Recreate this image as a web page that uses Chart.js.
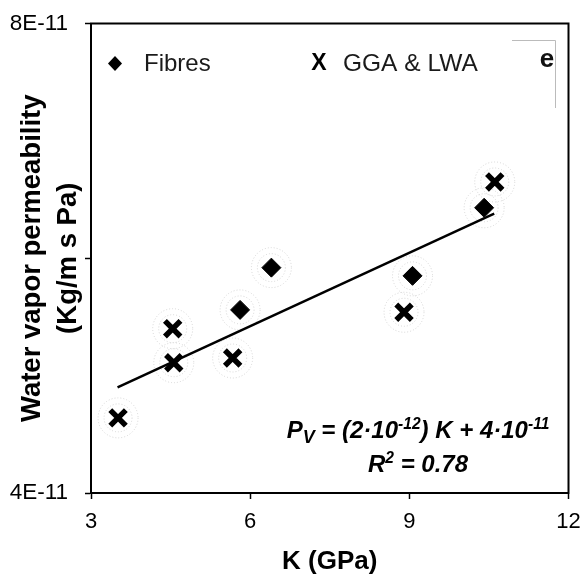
<!DOCTYPE html>
<html>
<head>
<meta charset="utf-8">
<script src="https://cdn.jsdelivr.net/npm/chart.js@4"></script>
<style>
  html, body { margin: 0; padding: 0; background: #fff; }
  #wrap { width: 585px; height: 576px; }
</style>
</head>
<body>
<div id="wrap"><canvas id="chart" width="585" height="576"></canvas></div>
<script>
/* ================================================
   Pv vs K scatter
   ================================================ */

const fibresK  = [5.81, 6.40, 9.06, 10.41];
const fibresPv = [5.56e-11, 5.92e-11, 5.85e-11, 6.43e-11];

const ggaK  = [3.51, 4.54, 4.56, 5.67, 8.90, 10.61];
const ggaPv = [4.64e-11, 5.40e-11, 5.11e-11, 5.15e-11, 5.54e-11, 6.65e-11];

const fitK  = [3.5, 10.6];
const fitPv = [4.90e-11, 6.38e-11];

const xTicks      = [3, 6, 9, 12];
const yTicks      = [4e-11, 6e-11, 8e-11];
const yTickLabels = ['4E-11', '', '8E-11'];

const FONT = "'Liberation Sans', Arial, sans-serif";

function toPoints(xs, ys) {
  return xs.map((x, i) => ({ x, y: ys[i] }));
}

// faint dotted rings behind each marker
const ringsPlugin = {
  id: 'rings',
  beforeDatasetsDraw(chart) {
    const ctx = chart.ctx;
    ctx.save();
    ctx.strokeStyle = '#d4d4d4';
    ctx.lineWidth = 1;
    ctx.setLineDash([1, 2]);
    chart.data.datasets.forEach((ds, i) => {
      if (ds.type === 'line') return;
      chart.getDatasetMeta(i).data.forEach(p => {
        [14, 20].forEach(r => {
          ctx.beginPath();
          ctx.arc(p.x, p.y, r, 0, Math.PI * 2);
          ctx.stroke();
        });
      });
    });
    ctx.restore();
  }
};

// draws a run of text pieces (normal / sup / sub) from x on a baseline
function drawRich(ctx, parts, x, y, size, align) {
  const font = s => `italic bold ${s}px ${FONT}`;
  let total = 0;
  parts.forEach(p => {
    ctx.font = font(size * (p.scale || 1));
    total += ctx.measureText(p.t).width;
  });
  let cx = align === 'center' ? x - total / 2 : x;
  ctx.textAlign = 'left';
  ctx.textBaseline = 'alphabetic';
  parts.forEach(p => {
    ctx.font = font(size * (p.scale || 1));
    ctx.fillText(p.t, cx, y + (p.dy || 0));
    cx += ctx.measureText(p.t).width;
  });
}

const decorPlugin = {
  id: 'decor',
  afterDraw(chart) {
    const { ctx, chartArea: a } = chart;
    ctx.save();

    // plot frame
    ctx.strokeStyle = '#000';
    ctx.lineWidth = 2;
    ctx.strokeRect(a.left, a.top, a.right - a.left, a.bottom - a.top);

    // legend
    const fib = chart.data.datasets[0].label;
    const gga = chart.data.datasets[1].label;
    ctx.fillStyle = '#000';
    ctx.beginPath();
    ctx.moveTo(115, 56); ctx.lineTo(122, 63.5); ctx.lineTo(115, 71); ctx.lineTo(108, 63.5);
    ctx.closePath();
    ctx.fill();
    ctx.font = `24px ${FONT}`;
    ctx.fillStyle = '#1a1a1a';
    ctx.textAlign = 'left';
    ctx.textBaseline = 'middle';
    ctx.fillText(fib, 144, 64);
    ctx.font = `24.5px ${FONT}`;
    ctx.fillText(gga, 343, 64);
    ctx.font = `bold 23px ${FONT}`;
    ctx.fillStyle = '#000';
    ctx.textAlign = 'center';
    ctx.fillText('X', 319, 64);

    // panel letter box
    ctx.strokeStyle = '#bbb';
    ctx.lineWidth = 1;
    ctx.beginPath();
    ctx.moveTo(512, 40.5); ctx.lineTo(555.5, 40.5); ctx.lineTo(555.5, 108);
    ctx.stroke();
    ctx.font = `bold 26px ${FONT}`;
    ctx.fillStyle = '#111';
    ctx.fillText('e', 547, 60);

    // fit equation
    ctx.fillStyle = '#000';
    drawRich(ctx, [
      { t: 'P' },
      { t: 'V', scale: 0.75, dy: 5 },
      { t: ' = (2·10' },
      { t: '-12', scale: 0.65, dy: -9 },
      { t: ') K + 4·10' },
      { t: '-11', scale: 0.65, dy: -9 }
    ], 418, 438, 24, 'center');
    drawRich(ctx, [
      { t: 'R' },
      { t: '2', scale: 0.65, dy: -9 },
      { t: ' = 0.78' }
    ], 418, 472, 24, 'center');

    ctx.restore();
  }
};

new Chart(document.getElementById('chart'), {
  type: 'scatter',
  data: {
    datasets: [
      {
        label: 'Fibres',
        data: toPoints(fibresK, fibresPv),
        pointStyle: 'rectRot',
        pointRadius: 9.5,
        backgroundColor: '#000',
        borderColor: '#000',
        borderWidth: 1
      },
      {
        label: 'GGA & LWA',
        data: toPoints(ggaK, ggaPv),
        pointStyle: 'crossRot',
        pointRadius: 11,
        borderColor: '#000',
        borderWidth: 5.5
      },
      {
        type: 'line',
        label: 'fit',
        data: toPoints(fitK, fitPv),
        borderColor: '#000',
        borderWidth: 2.5,
        pointRadius: 0,
        fill: false
      }
    ]
  },
  options: {
    responsive: false,
    animation: false,
    layout: { padding: { top: 23.5, right: 15, left: 0, bottom: 0 } },
    plugins: {
      legend: { display: false },
      tooltip: { enabled: false }
    },
    scales: {
      x: {
        type: 'linear',
        min: 3,
        max: 12,
        afterBuildTicks: s => { s.ticks = xTicks.map(v => ({ value: v })); },
        afterFit: s => { s.height = 83; s.paddingLeft = 0; s.paddingRight = 0; },
        grid: { drawOnChartArea: false, drawTicks: true, tickLength: 6, color: '#000', tickWidth: 1.5 },
        border: { color: '#000', width: 2 },
        ticks: { color: '#000', font: { family: FONT, size: 22 }, padding: 10, maxRotation: 0 },
        title: {
          display: true,
          text: 'K (GPa)',
          color: '#000',
          font: { family: FONT, size: 26, weight: 'bold', lineHeight: 1.0 },
          padding: { top: 0, bottom: 1.5 }
        }
      },
      y: {
        type: 'linear',
        min: 4e-11,
        max: 8e-11,
        afterBuildTicks: s => { s.ticks = yTicks.map(v => ({ value: v })); },
        afterFit: s => { s.width = 91; s.paddingTop = 0; s.paddingBottom = 0; },
        grid: { drawOnChartArea: false, drawTicks: true, tickLength: 6, color: '#000', tickWidth: 1.5 },
        border: { color: '#000', width: 2 },
        ticks: {
          color: '#000',
          font: { family: FONT, size: 22.5 },
          padding: 17,
          callback: (v, i) => yTickLabels[i]
        },
        title: {
          display: true,
          text: ['Water vapor permeability', '(Kg/m s Pa)'],
          color: '#000',
          font: { family: FONT, size: 27.5, weight: 'bold', lineHeight: 1.31 },
          padding: { top: 14, bottom: 0 }
        }
      }
    }
  },
  plugins: [ringsPlugin, decorPlugin]
});
</script>
</body>
</html>
